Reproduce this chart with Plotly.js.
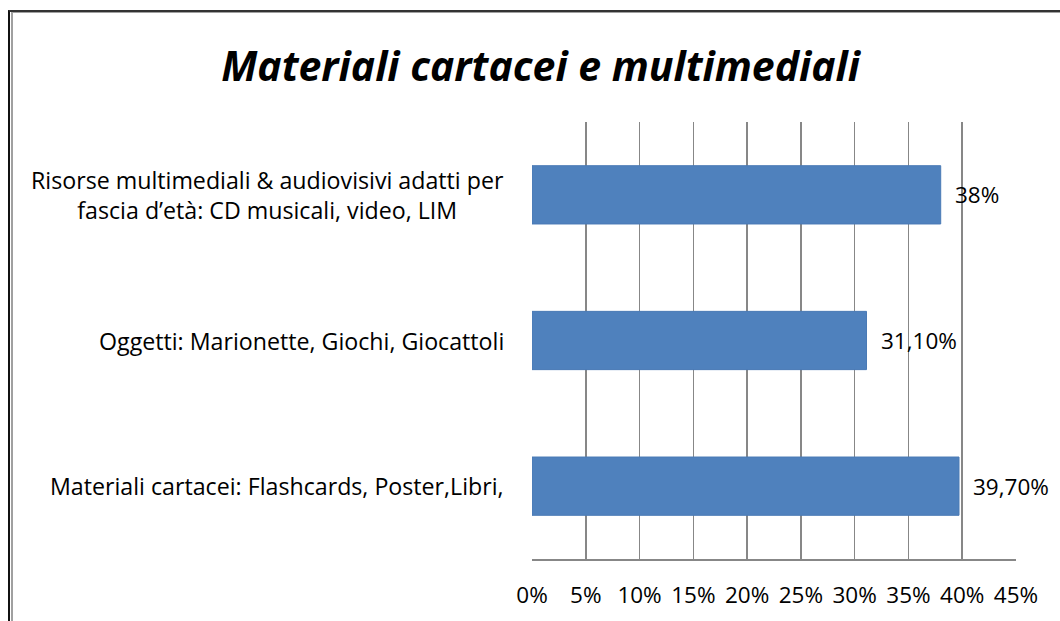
<!DOCTYPE html>
<html>
<head>
<meta charset="utf-8">
<script src="https://cdn.plot.ly/plotly-3.0.1.min.js"></script>
<style>
  html, body { margin: 0; padding: 0; background: #fff; overflow: hidden; }
  #chart { position: absolute; left: 0; top: 0; width: 1060px; height: 621px; }
  #frame1 { position: absolute; left: 8px; top: 10px; width: 1100px; height: 700px;
            border-left: 2px solid #111; border-top: 2px solid #333; pointer-events: none; }
  #frame2 { position: absolute; left: 11px; top: 12px; width: 1100px; height: 700px;
            border-left: 2px solid #a0a0a0; border-top: 1px solid #a0a0a0; pointer-events: none; }
</style>
</head>
<body>
<div id="chart"></div>
<div id="frame1"></div>
<div id="frame2"></div>
<script>
const categories = [
  "Materiali cartacei: Flashcards, Poster,Libri,",
  "Oggetti: Marionette, Giochi, Giocattoli",
  "Risorse multimediali & audiovisivi adatti per<br>fascia d\u2019et\u00e0: CD musicali, video, LIM"
];
const values = [39.7, 31.1, 38];
const valueLabels = ["39,70%", "31,10%", "38%"];
const tickVals = [0, 5, 10, 15, 20, 25, 30, 35, 40, 45];
const tickLabels = ["0%", "5%", "10%", "15%", "20%", "25%", "30%", "35%", "40%", "45%"];

const font = "'Open Sans', sans-serif";
const fs = 22.5;

const trace = {
  type: "bar",
  orientation: "h",
  x: values,
  y: categories,
  marker: { color: "#4f81bd", line: { color: "#4a7ab5", width: 1 } },
  hoverinfo: "none"
};

const catAnnotations = categories.map(c => ({
  xref: "paper", yref: "y", x: 0, y: c, xanchor: "right", yanchor: "middle",
  xshift: -26, text: c, showarrow: false, align: "center",
  font: { family: font, size: 23.2, color: "#000" }
}));

const valAnnotations = categories.map((c, i) => ({
  xref: "x", yref: "y", x: values[i], y: c, xanchor: "left", yanchor: "middle",
  xshift: 12, text: valueLabels[i], showarrow: false,
  font: { family: font, size: fs, color: "#000" }
}));

const layout = {
  width: 1060, height: 621,
  margin: { l: 532, r: 44, t: 122, b: 62 },
  paper_bgcolor: "#fff", plot_bgcolor: "#fff",
  title: {
    text: "<b><i>Materiali cartacei e multimediali</i></b>",
    font: { family: font, size: 41, color: "#000" },
    x: 0.51, xanchor: "center", y: 0.892, yanchor: "middle"
  },
  bargap: 0.6,
  showlegend: false,
  xaxis: {
    range: [0, 45], tickvals: tickVals, ticktext: tickLabels,
    showgrid: true, gridcolor: "#878787", gridwidth: 1.5,
    zeroline: false, showline: true, linecolor: "#878787", linewidth: 1.5,
    ticks: "", ticklen: 0, ticklabelstandoff: 15,
    tickfont: { family: font, size: fs, color: "#000" },
    fixedrange: true, mirror: false
  },
  yaxis: {
    categoryorder: "array", categoryarray: categories,
    showticklabels: false, showgrid: false, zeroline: false, showline: false,
    ticks: "", fixedrange: true
  },
  annotations: catAnnotations.concat(valAnnotations)
};

Plotly.newPlot("chart", [trace], layout, { displayModeBar: false, staticPlot: true });
</script>
</body>
</html>
